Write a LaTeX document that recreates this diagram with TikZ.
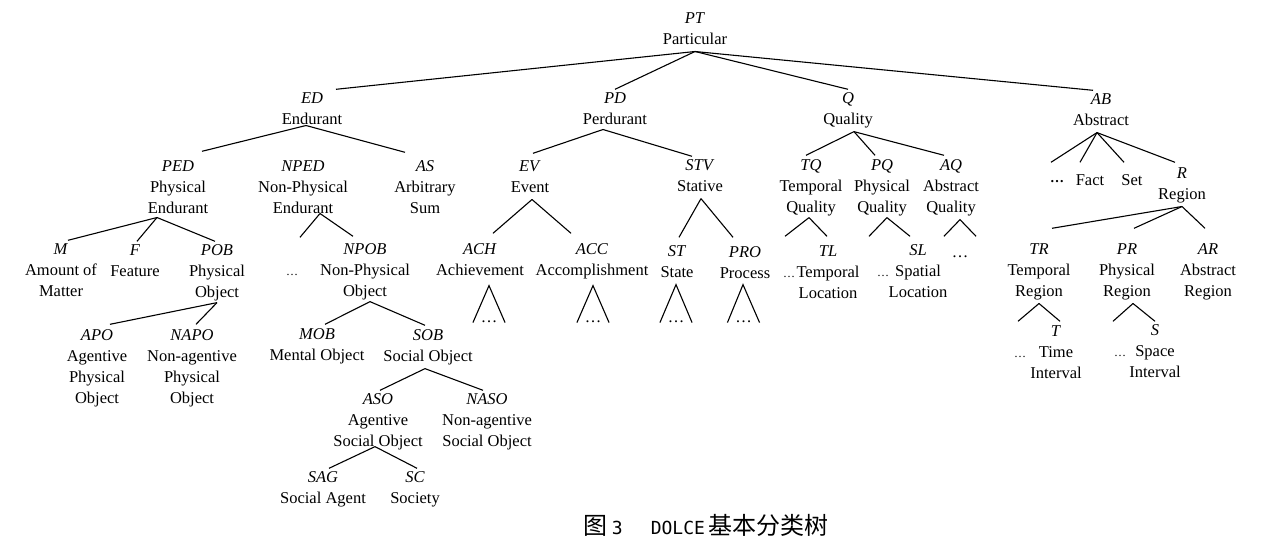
\documentclass[tikz,border=0pt]{standalone}
\usepackage{fontspec}
\setmainfont{Liberation Serif}
\newfontfamily\cjk{Noto Sans CJK SC}
\newfontfamily\capmono{DejaVu Sans Mono}
\newcommand\midots{\raisebox{4pt}{\fontsize{12}{12}\selectfont\ldots}}
\newcommand\bigdots{\raisebox{3.5pt}{\bfseries\fontsize{14}{14}\selectfont\ldots}}

\begin{document}
\begin{tikzpicture}[x=1pt,y=-1pt,line width=1.1pt,
  font=\fontsize{16.5}{21}\selectfont,
  tn/.style={anchor=north,yshift=6.7pt,align=center,inner xsep=2pt,inner ysep=0pt,
    execute at begin node=\strut,execute at end node=\strut},
  tridots/.style={tn,inner xsep=7.25pt}]
  \useasboundingbox[fill=white] (0,0) rectangle (1267,549);
  % root
  \node[tn] (PT) at (695,19) {\textit{PT}\\Particular};
  % first level
  \node[tn] (ED) at (312,99) {\textit{ED}\\Endurant};
  \node[tn] (PD) at (615,99) {\textit{PD}\\Perdurant};
  \node[tn] (Q) at (848,99) {\textit{Q}\\Quality};
  \node[tn] (AB) at (1101,100) {\textit{AB}\\Abstract};
  % second level
  \node[tn] (PED) at (178,167) {\textit{PED}\\Physical\\Endurant};
  \node[tn] (NPED) at (303,167) {\textit{NPED}\\Non-Physical\\Endurant};
  \node[tn] (AS) at (425,167) {\textit{AS}\\Arbitrary\\Sum};
  \node[tn] (EV) at (530,167) {\textit{EV}\\Event};
  \node[tn] (STV) at (700,166) {\textit{STV}\\Stative};
  \node[tn] (TQ) at (811,166) {\textit{TQ}\\Temporal\\Quality};
  \node[tn] (PQ) at (882,166) {\textit{PQ}\\Physical\\Quality};
  \node[tn] (AQ) at (951,166) {\textit{AQ}\\Abstract\\Quality};
  \node[tn] (ABd) at (1057,177) {\bigdots};
  \node[tn] (Fact) at (1090,177) {Fact};
  \node[tn] (Set) at (1132,177) {Set};
  \node[tn] (R) at (1182,174) {\textit{R}\\Region};
  % third level
  \node[tn] (M) at (61,250) {\textit{M}\\Amount of\\Matter};
  \node[tn] (F) at (135,251) {\textit{F}\\Feature};
  \node[tn] (POB) at (217,251) {\textit{POB}\\Physical\\Object};
  \node[tn] (NPEDd) at (292,271) {\midots};
  \node[tn] (NPOB) at (365,250) {\textit{NPOB}\\Non-Physical\\Object};
  \node[tn] (ACH) at (480,250) {\textit{ACH}\\Achievement};
  \node[tn] (ACC) at (592,250) {\textit{ACC}\\Accomplishment};
  \node[tn] (ST) at (677,252) {\textit{ST}\\State};
  \node[tn] (PRO) at (745,253) {\textit{PRO}\\Process};
  \node[tn] (TQd) at (789,273) {\midots};
  \node[tn] (TL) at (828,252) {\textit{TL}\\Temporal\\Location};
  \node[tn] (PQd) at (883,272) {\midots};
  \node[tn] (SL) at (918,251) {\textit{SL}\\Spatial\\Location};
  \node[tridots] (AQd) at (960,249) {\ldots};
  \node[tn] (TR) at (1039,250) {\textit{TR}\\Temporal\\Region};
  \node[tn] (PR) at (1127,250) {\textit{PR}\\Physical\\Region};
  \node[tn] (AR) at (1208,250) {\textit{AR}\\Abstract\\Region};
  % open subtrees
  \node[tridots] (ACHd) at (489,314) {\ldots};
  \node[tridots] (ACCd) at (593,314) {\ldots};
  \node[tridots] (STd) at (676,314) {\ldots};
  \node[tridots] (PROd) at (743.5,314) {\ldots};
  % fourth level and below
  \node[tn] (APO) at (97,336) {\textit{APO}\\Agentive\\Physical\\Object};
  \node[tn] (NAPO) at (192,336) {\textit{NAPO}\\Non-agentive\\Physical\\Object};
  \node[tn] (MOB) at (317,335) {\textit{MOB}\\Mental Object};
  \node[tn] (SOB) at (428,336) {\textit{SOB}\\Social Object};
  \node[tn] (ASO) at (378,400) {\textit{ASO}\\Agentive\\Social Object};
  \node[tn] (NASO) at (487,400) {\textit{NASO}\\Non-agentive\\Social Object};
  \node[tn] (SAG) at (323,478) {\textit{SAG}\\Social Agent};
  \node[tn] (SC) at (415,478) {\textit{SC}\\Society};
  \node[tn] (TRd) at (1020,353) {\midots};
  \node[tn] (T) at (1056,332) {\textit{T}\\Time\\Interval};
  \node[tn] (PRd) at (1120,352) {\midots};
  \node[tn] (S) at (1155,331) {\textit{S}\\Space\\Interval};

  % branches
  \draw (PT.south) -- ([xshift=24pt,yshift=3pt]ED.north);
  \draw (PT.south) -- ([yshift=3pt]PD.north);
  \draw (PT.south) -- ([yshift=3pt]Q.north);
  \draw (PT.south) -- ([xshift=-8pt,yshift=3pt]AB.north);

  \draw ([xshift=-6pt,yshift=6pt]ED.south) -- ([xshift=24pt,yshift=9pt]PED.north);
  \draw ([xshift=-6pt,yshift=6pt]ED.south) -- ([xshift=-20pt,yshift=8pt]AS.north);

  \draw ([xshift=-12pt,yshift=2pt]PD.south) -- ([xshift=3pt,yshift=7pt]EV.north);
  \draw ([xshift=-12pt,yshift=2pt]PD.south) -- ([xshift=-8pt,yshift=3pt]STV.north);

  \draw ([xshift=6pt]Q.south) -- ([xshift=-5pt,yshift=4pt]TQ.north);
  \draw ([xshift=6pt]Q.south) -- ([xshift=-7pt,yshift=4pt]PQ.north);
  \draw ([xshift=6pt]Q.south) -- ([xshift=-7pt,yshift=4pt]AQ.north);

  \draw ([xshift=-4pt]AB.south) -- ([xshift=-6pt,yshift=8pt]ABd.north);
  \draw ([xshift=-4pt]AB.south) -- ([xshift=-10pt,yshift=8pt]Fact.north);
  \draw ([xshift=-4pt]AB.south) -- ([xshift=-8pt,yshift=8pt]Set.north);
  \draw ([xshift=-4pt]AB.south) -- ([xshift=-7pt,yshift=5pt]R.north);

  \draw ([xshift=-21pt,yshift=3pt]PED.south) -- ([xshift=7pt,yshift=3pt]M.north);
  \draw ([xshift=-21pt,yshift=3pt]PED.south) -- ([xshift=2pt,yshift=3pt]F.north);
  \draw ([xshift=-21pt,yshift=3pt]PED.south) -- ([xshift=-2pt,yshift=3pt]POB.north);

  \draw ([xshift=17pt,yshift=7pt]NPED.south) -- ([xshift=8pt,yshift=27pt]NPEDd.north);
  \draw ([xshift=17pt,yshift=7pt]NPED.south) -- ([xshift=-12pt,yshift=7pt]NPOB.north);

  \draw ([yshift=2pt]POB.south) -- ([xshift=13pt,yshift=5pt]APO.north);
  \draw ([yshift=2pt]POB.south) -- ([xshift=4pt,yshift=5pt]NAPO.north);

  \draw ([xshift=5pt,yshift=2pt]NPOB.south) -- ([xshift=8pt,yshift=4pt]MOB.north);
  \draw ([xshift=5pt,yshift=2pt]NPOB.south) -- ([xshift=-3pt,yshift=4pt]SOB.north);

  \draw ([xshift=-3pt]SOB.south) -- ([xshift=2pt,yshift=3pt]ASO.north);
  \draw ([xshift=-3pt]SOB.south) -- ([xshift=-4pt,yshift=3pt]NASO.north);

  \draw ([xshift=-3pt,yshift=7pt]ASO.south) -- ([xshift=6pt,yshift=3pt]SAG.north);
  \draw ([xshift=-3pt,yshift=7pt]ASO.south) -- ([xshift=2pt,yshift=3pt]SC.north);

  \draw ([xshift=2pt]EV.south) -- ([xshift=13pt,yshift=10pt]ACH.north);
  \draw ([xshift=2pt]EV.south) -- ([xshift=-21pt,yshift=10pt]ACC.north);

  \draw ([xshift=1pt]STV.south) -- ([xshift=2pt,yshift=8pt]ST.north);
  \draw ([xshift=1pt]STV.south) -- ([xshift=-12pt,yshift=9pt]PRO.north);

  \draw ([xshift=-2pt,yshift=2pt]TQ.south) -- ([xshift=-4pt,yshift=30pt]TQd.north);
  \draw ([xshift=-2pt,yshift=2pt]TQ.south) -- ([xshift=-1pt,yshift=9pt]TL.north);

  \draw ([xshift=5pt,yshift=2pt]PQ.south) -- ([xshift=-14pt,yshift=29pt]PQd.north);
  \draw ([xshift=5pt,yshift=2pt]PQ.south) -- ([xshift=-8pt,yshift=8pt]SL.north);

  \draw ([yshift=6pt]AQd.north west) -- ([xshift=9pt]AQ.south) -- ([yshift=6pt]AQd.north east);

  \draw (ACHd.base west) -- ([xshift=9pt,yshift=-3pt]ACH.south) -- (ACHd.base east);
  \draw (ACCd.base west) -- ([xshift=1pt,yshift=-3pt]ACC.south) -- (ACCd.base east);
  \draw (STd.base west) -- ([xshift=-1pt]ST.south) -- (STd.base east);
  \draw (PROd.base west) -- ([xshift=-2pt,yshift=1pt]PRO.south) -- (PROd.base east);

  \draw (R.south) -- ([xshift=13pt,yshift=15pt]TR.north);
  \draw (R.south) -- ([xshift=7pt,yshift=15pt]PR.north);
  \draw (R.south) -- ([xshift=-3pt,yshift=15pt]AR.north);

  \draw (TR.south) -- ([xshift=-2pt,yshift=25pt]TRd.north);
  \draw (TR.south) -- ([xshift=4pt,yshift=4pt]T.north);

  \draw ([xshift=6pt]PR.south) -- ([xshift=-7pt,yshift=24pt]PRd.north);
  \draw ([xshift=6pt]PR.south) -- ([yshift=3pt]S.north);

  % caption
  \node (cap) at (706,525) {\cjk\fontsize{24}{24}\selectfont 图\kern4pt{\capmono\fontsize{18}{18}\selectfont 3\hspace{28pt}DOLCE}\hspace{3pt}基本分类树};
\end{tikzpicture}
\end{document}
